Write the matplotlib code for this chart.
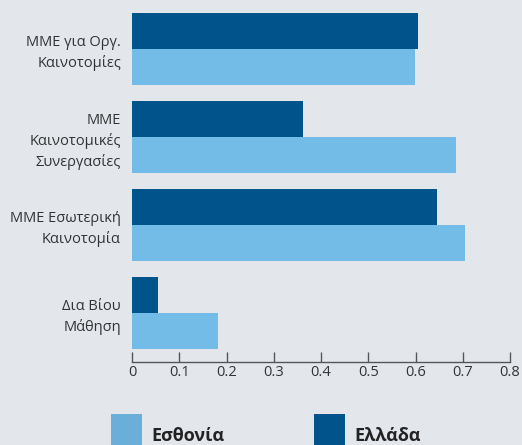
import numpy as np
import matplotlib.pyplot as plt
from matplotlib.patches import Patch

categories = ["ΜΜΕ για Οργ.\nΚαινοτομίες",
              "ΜΜΕ\nΚαινοτομικές\nΣυνεργασίες",
              "ΜΜΕ Εσωτερική\nΚαινοτομία",
              "Δια Βίου\nΜάθηση"]
estonia = [0.599, 0.686, 0.705, 0.182]
greece = [0.605, 0.362, 0.645, 0.055]
series_names = ["Εσθονία", "Ελλάδα"]
xticks = [0, 0.1, 0.2, 0.3, 0.4, 0.5, 0.6, 0.7, 0.8]

bg = "#e3e7ec"
light = "#74bce8"
dark = "#00548c"
txt = "#333333"

plt.rcParams['font.family'] = ['Open Sans', 'DejaVu Sans']

fig = plt.figure(figsize=(5.22, 4.45), dpi=100, facecolor=bg)
ax = fig.add_axes([132 / 522, 1 - 362 / 445, 378 / 522, 362 / 445])
ax.set_facecolor(bg)

y = np.arange(len(categories))
h = 36 / 88
ax.barh(y - h / 2, greece, height=h, color=dark, label=series_names[1])
ax.barh(y + h / 2, estonia, height=h, color=light, label=series_names[0])

ax.set_xlim(0, 0.8)
ax.set_ylim(3 + 49 / 88, -49 / 88)
ax.set_xticks(xticks)
ax.set_xticklabels(["0"] + ["{:.1f}".format(v) for v in xticks[1:]])
ax.set_yticks(y)
ax.set_yticklabels(categories, linespacing=1.4)
ax.tick_params(axis="y", length=0, pad=8, labelsize=10.5, labelcolor=txt)
ax.tick_params(axis="x", direction="in", length=7.5, width=1, color="#555555",
               pad=2, labelsize=10.5, labelcolor=txt)
for s in ["top", "right", "left"]:
    ax.spines[s].set_visible(False)
ax.spines["bottom"].set_color("#555555")
ax.spines["bottom"].set_linewidth(1)

handles = [Patch(facecolor="#6aafda", edgecolor="none"),
           Patch(facecolor=dark, edgecolor="none")]
fig.legend(handles, series_names, loc="upper left",
           bbox_to_anchor=(111 / 522, 1 - 414 / 445), ncol=2, frameon=False,
           borderpad=0, borderaxespad=0, handlelength=1.7, handleheight=3.4,
           handletextpad=0.55, columnspacing=4.95,
           prop={"size": 13, "weight": "bold"}, labelcolor="#222222")

plt.savefig("out.png", dpi=100, facecolor=bg)
